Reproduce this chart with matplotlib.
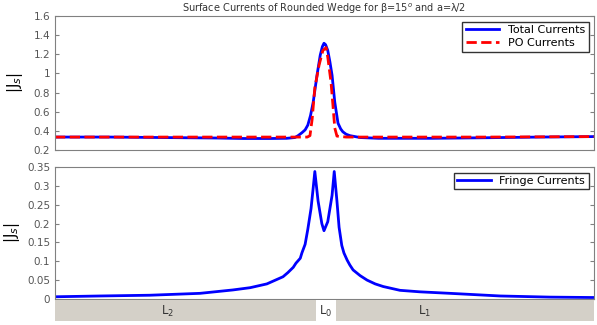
import numpy as np
import matplotlib
matplotlib.use('Agg')
import matplotlib.pyplot as plt
from matplotlib.patches import Rectangle

# position along the wedge surface (0..100, rounded tip in the middle)
x_total = [0, 10, 20, 30, 35, 40, 43, 44.5, 45.1, 45.8, 46.4, 46.9, 47.4, 47.9, 48.6,
           49.2, 49.6, 49.9, 50.2, 50.6, 51.0, 51.4, 51.9, 52.5, 53.0, 53.4, 54.0, 54.7,
           56.6, 60, 70, 80, 90, 100]
j_total = [0.335, 0.335, 0.33, 0.325, 0.32, 0.32, 0.322, 0.33, 0.35, 0.38, 0.41, 0.46,
           0.56, 0.70, 0.98, 1.19, 1.28, 1.315, 1.3, 1.24, 1.12, 0.98, 0.70, 0.48, 0.42,
           0.39, 0.365, 0.35, 0.33, 0.322, 0.322, 0.328, 0.335, 0.34]

x_po = [0, 20, 40, 46.8, 47.3, 47.7, 48.2, 49.0, 49.7, 50.3, 50.6, 51.2, 51.6, 51.9,
        52.3, 54, 60, 80, 100]
j_po = [0.335, 0.335, 0.335, 0.335, 0.35, 0.52, 0.85, 1.09, 1.24, 1.27, 1.17, 0.91,
        0.64, 0.43, 0.345, 0.335, 0.335, 0.335, 0.34]

x_fringe = [0.4, 8.3, 17.6, 26.9, 33.0, 36.2, 39.3, 42.3, 43.2, 44.2, 44.7, 45.5, 45.8,
            46.4, 46.9, 47.5, 47.9, 48.2, 48.8, 49.5, 49.9, 50.6, 51.4, 51.8, 52.3, 52.7,
            53.2, 53.6, 54.2, 54.7, 55.3, 56.6, 57.9, 59.4, 60.9, 64.0, 67.7, 73.3, 82.6,
            91.8, 99.3, 100]
j_fringe = [0.006, 0.008, 0.010, 0.015, 0.024, 0.030, 0.040, 0.059, 0.070, 0.084, 0.095,
            0.108, 0.122, 0.145, 0.185, 0.24, 0.295, 0.338, 0.26, 0.20, 0.181, 0.205, 0.275,
            0.338, 0.26, 0.19, 0.142, 0.122, 0.103, 0.09, 0.077, 0.062, 0.05, 0.04, 0.033,
            0.023, 0.019, 0.015, 0.008, 0.005, 0.004, 0.004]

# surface segments: L2 (flat face), L0 (rounded tip), L1 (flat face)
seg_names = ['L$_2$', 'L$_0$', 'L$_1$']
seg_edges = [0, 48.4, 52.1, 100]
seg_label_x = [20.8, 50.25, 68.6]
seg_colors = ['#d4d0c8', 'white', '#d4d0c8']

title = 'Surface Currents of Rounded Wedge for β=15$^o$ and a=λ/2'

fig = plt.figure(figsize=(5.97, 3.25), dpi=100)
ax1 = fig.add_axes([0.0921, 0.5385, 0.903, 0.4123])
ax2 = fig.add_axes([0.0921, 0.0800, 0.903, 0.4062])
ax3 = fig.add_axes([0.0921, 0.0123, 0.903, 0.0646])

gray = '#808080'
for ax in (ax1, ax2):
    for sp in ax.spines.values():
        sp.set_color(gray)
    ax.tick_params(direction='in', length=3, colors=gray, labelsize=7.5,
                   right=True, labelcolor='#555555')
    ax.set_xticks([])
    ax.set_xlim(0, 100)

ax1.plot(x_total, j_total, color='blue', lw=2, label='Total Currents')
ax1.plot(x_po, j_po, color='red', lw=2, ls='--', label='PO Currents')
ax1.set_ylim(0.2, 1.6)
ax1.set_yticks([0.2, 0.4, 0.6, 0.8, 1.0, 1.2, 1.4, 1.6])
ax1.set_yticklabels(['0.2', '0.4', '0.6', '0.8', '1', '1.2', '1.4', '1.6'])
ax1.set_ylabel('|J$_s$|', fontsize=11)
ax1.yaxis.set_label_coords(-0.056, 0.5)
ax1.legend(loc='upper right', fontsize=8, fancybox=False, edgecolor='#333333',
           handlelength=3, borderpad=0.3, labelspacing=0.3, framealpha=1)
ax1.set_title(title, fontsize=7, color='#333333', pad=3)

ax2.plot(x_fringe, j_fringe, color='blue', lw=2, label='Fringe Currents')
ax2.set_ylim(0, 0.35)
ax2.set_yticks([0, 0.05, 0.1, 0.15, 0.2, 0.25, 0.3, 0.35])
ax2.set_yticklabels(['0', '0.05', '0.1', '0.15', '0.2', '0.25', '0.3', '0.35'])
ax2.set_ylabel('|J$_s$|', fontsize=11)
ax2.yaxis.set_label_coords(-0.062, 0.5)
ax2.legend(loc='upper right', fontsize=8, fancybox=False, edgecolor='#333333',
           handlelength=3, borderpad=0.3, framealpha=1)

# segment bar under the lower plot
ax3.set_xlim(0, 100)
ax3.set_ylim(0, 1)
ax3.axis('off')
for i, name in enumerate(seg_names):
    x0, x1 = seg_edges[i], seg_edges[i + 1]
    ax3.add_patch(Rectangle((x0, 0), x1 - x0, 1, facecolor=seg_colors[i], edgecolor='none'))
    ax3.text(seg_label_x[i], 0.45, name, ha='center', va='center',
             fontsize=8.5, color='#333333')

fig.savefig('out.png', dpi=100)
